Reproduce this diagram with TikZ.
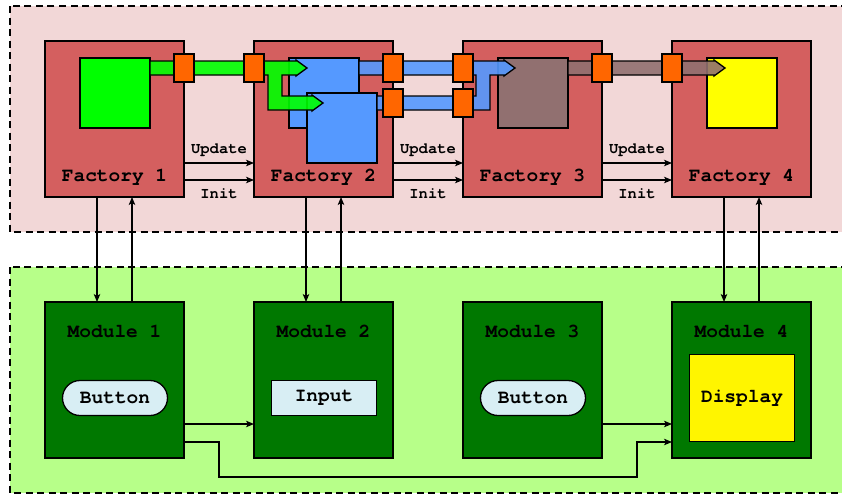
\documentclass[tikz,border=0pt]{standalone}
\usepackage{fontspec}
\newfontfamily\cour{texgyrecursor-bold}[Extension=.otf]
\usetikzlibrary{arrows.meta,calc}
\definecolor{topbg}{HTML}{F2D7D7}
\definecolor{botbg}{HTML}{B7FF89}
\definecolor{factoryc}{HTML}{D45F5F}
\definecolor{modulec}{HTML}{007800}
\definecolor{btnc}{HTML}{D8EEF4}
\definecolor{greenc}{HTML}{00FF00}
\definecolor{bluec}{HTML}{5599FF}
\definecolor{brownc}{HTML}{917070}
\definecolor{yellowc}{HTML}{FFFF00}
\definecolor{dispc}{HTML}{FFF500}
\definecolor{orangec}{HTML}{FF6600}
\tikzset{
  region/.style={draw, dash pattern=on 7pt off 4.5pt, line width=1.2pt},
  factory/.style={draw, fill=factoryc, line width=1.3pt, minimum width=139pt, minimum height=156pt, inner sep=0pt, outer sep=0pt},
  module/.style={draw, fill=modulec, line width=1.3pt, minimum width=139pt, minimum height=156pt, inner sep=0pt, outer sep=0pt},
  inbox/.style={draw, line width=1.3pt, minimum size=70pt, inner sep=0pt, outer sep=0pt},
  port/.style={draw, fill=orangec, line width=1.3pt, minimum width=20pt, minimum height=28pt, inner sep=0pt, outer sep=0pt},
  pipe/.style={draw, line width=1.3pt, fill opacity=0.9, line join=miter},
  lbl/.style={font=\fontsize{19.5}{23}\selectfont\cour, anchor=base, inner sep=0pt},
  small/.style={font=\fontsize{15.5}{19}\selectfont\cour, anchor=base, inner sep=0pt},
  arr/.style={-{Stealth[length=8pt,width=6.5pt,inset=2pt]}, line width=1.2pt},
  widget/.style={draw, fill=btnc, line width=1.3pt, minimum width=105pt, minimum height=35pt, inner sep=0pt, outer sep=0pt, font=\fontsize{19.5}{23}\selectfont\cour},
  pill/.style={widget, rounded corners=17.5pt},
  display/.style={draw, fill=dispc, line width=1.3pt, minimum width=105pt, minimum height=87pt, inner sep=0pt, outer sep=0pt, font=\fontsize{19.5}{23}\selectfont\cour},
}
\begin{document}
\begin{tikzpicture}[x=1pt,y=-1pt]
\path[use as bounding box] (0,0) rectangle (842,496);
\clip (0,0) rectangle (842,496);
% regions
\path[region, fill=topbg] (10,6) rectangle (870,232);
\path[region, fill=botbg] (10,267) rectangle (870,493);
% factories
\node[factory] (f1) at (114.5,119) {};
\node[factory] (f2) at (323.5,119) {};
\node[factory] (f3) at (532.5,119) {};
\node[factory] (f4) at (741.5,119) {};
\node[lbl] (f1l) at (114.5,181) {Factory 1};
\node[lbl] (f2l) at (323.5,181) {Factory 2};
\node[lbl] (f3l) at (532.5,181) {Factory 3};
\node[lbl] (f4l) at (741.5,181) {Factory 4};
% inner boxes
\node[inbox, fill=greenc] (g1) at (115,93) {};
\node[inbox, fill=bluec] (b1) at (324,93) {};
\node[inbox, fill=bluec] (b2) at (342,128) {};
\node[inbox, fill=brownc] (br) at (533,93) {};
\node[inbox, fill=yellowc] (y4) at (742,93) {};
% pipes
\path[pipe, fill=greenc] (150,61) -- (296,61) -- (296,60) -- (307,68) -- (296,76) -- (296,75)
  -- (282,75) -- (282,96) -- (312,96) -- (312,95) -- (323,103) -- (312,111) -- (312,110)
  -- (268,110) -- (268,75) -- (150,75) -- cycle;
\path[pipe, fill=bluec] (359,61) -- (504,61) -- (504,60) -- (515,68) -- (504,76) -- (504,75)
  -- (490,75) -- (490,110) -- (377,110) -- (377,96) -- (476,96) -- (476,75) -- (359,75) -- cycle;
\path[pipe, fill=brownc] (568,61) -- (714,61) -- (714,60) -- (725,68) -- (714,76) -- (714,75)
  -- (568,75) -- cycle;
% ports
\node[port] (p1) at (184,68) {};
\node[port] (p2) at (254,68) {};
\node[port] (p3) at (393,68) {};
\node[port] (p4) at (463,68) {};
\node[port] (p5) at (602,68) {};
\node[port] (p6) at (672,68) {};
\node[port] (p7) at (393,103) {};
\node[port] (p8) at (463,103) {};
% update / init
\draw[arr] (f1.east |- 0,163) -- (f2.west |- 0,163);
\draw[arr] (f1.east |- 0,180) -- (f2.west |- 0,180);
\draw[arr] (f2.east |- 0,163) -- (f3.west |- 0,163);
\draw[arr] (f2.east |- 0,180) -- (f3.west |- 0,180);
\draw[arr] (f3.east |- 0,163) -- (f4.west |- 0,163);
\draw[arr] (f3.east |- 0,180) -- (f4.west |- 0,180);
\node[small] (u1) at (219,153) {Update};
\node[small] (i1) at (219,198) {Init};
\node[small] (u2) at (428,153) {Update};
\node[small] (i2) at (428,198) {Init};
\node[small] (u3) at (637,153) {Update};
\node[small] (i3) at (637,198) {Init};
% modules
\node[module] (m1) at (114.5,380) {};
\node[module] (m2) at (323.5,380) {};
\node[module] (m3) at (532.5,380) {};
\node[module] (m4) at (741.5,380) {};
\node[lbl] (m1l) at (114.5,337) {Module 1};
\node[lbl] (m2l) at (323.5,337) {Module 2};
\node[lbl] (m3l) at (532.5,337) {Module 3};
\node[lbl] (m4l) at (741.5,337) {Module 4};
\node[pill] (btn1) at (115,398) {Button};
\node[widget] (inp) at (324,398) {Input};
\node[pill] (btn3) at (533,398) {Button};
\node[display] (disp) at (742,398) {Display};
% factory <-> module
\draw[arr] ([xshift=-17.5pt]f1.south) -- ([xshift=-17.5pt]m1.north);
\draw[arr] ([xshift=17.5pt]m1.north) -- ([xshift=17.5pt]f1.south);
\draw[arr] ([xshift=-17.5pt]f2.south) -- ([xshift=-17.5pt]m2.north);
\draw[arr] ([xshift=17.5pt]m2.north) -- ([xshift=17.5pt]f2.south);
\draw[arr] ([xshift=-17.5pt]f4.south) -- ([xshift=-17.5pt]m4.north);
\draw[arr] ([xshift=17.5pt]m4.north) -- ([xshift=17.5pt]f4.south);
% module links
\draw[arr] (m1.east |- 0,424) -- (m2.west |- 0,424);
\draw[arr] (m3.east |- 0,424) -- (m4.west |- 0,424);
\draw[arr] (m1.east |- 0,442) -| (219,477) -| (637,442) -- (m4.west |- 0,442);
\end{tikzpicture}
\end{document}
